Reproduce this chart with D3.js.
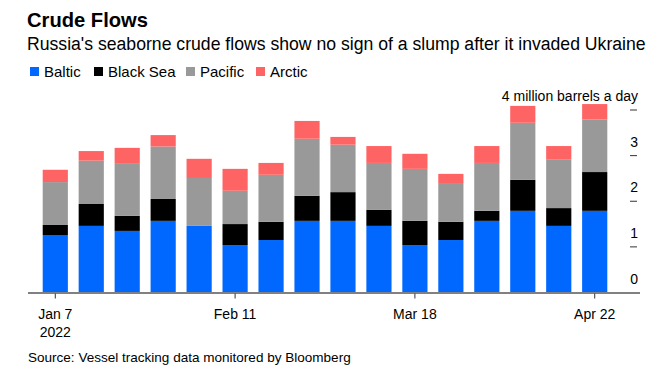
<!DOCTYPE html>
<html>
<head>
<meta charset="utf-8">
<script src="https://cdn.jsdelivr.net/npm/d3@7"></script>
<style>
  body { margin: 0; background: #fff; }
  text { font-family: "Liberation Sans", Arial, sans-serif; fill: #000; }
</style>
</head>
<body>
<svg id="chart" width="665" height="372"></svg>
<script>
// weekly flows, million barrels a day
const weeks = ["Jan 7", "Jan 14", "Jan 21", "Jan 28", "Feb 4", "Feb 11", "Feb 18", "Feb 25",
  "Mar 4", "Mar 11", "Mar 18", "Mar 25", "Apr 1", "Apr 8", "Apr 15", "Apr 22"];
const baltic   = [1.26, 1.46, 1.35, 1.57, 1.46, 1.04, 1.15, 1.57, 1.57, 1.46, 1.04, 1.15, 1.57, 1.79, 1.46, 1.79];
const blackSea = [0.22, 0.48, 0.33, 0.48, 0.00, 0.46, 0.40, 0.55, 0.63, 0.35, 0.53, 0.40, 0.22, 0.68, 0.39, 0.85];
const pacific  = [0.94, 0.95, 1.14, 1.15, 1.05, 0.73, 1.03, 1.25, 1.04, 1.03, 1.14, 0.83, 1.05, 1.25, 1.06, 1.15];
const arctic   = [0.27, 0.21, 0.35, 0.25, 0.42, 0.48, 0.26, 0.39, 0.17, 0.37, 0.33, 0.22, 0.37, 0.37, 0.30, 0.34];

const seriesNames = ["Baltic", "Black Sea", "Pacific", "Arctic"];
const colors = ["#0068ff", "#000000", "#999999", "#ff6464"];
const yTicks = [0, 1, 2, 3, 4];
const xTickWeeks = ["Jan 7", "Feb 11", "Mar 18", "Apr 22"];

const svg = d3.select("#chart");

// fit a text element to a target width by adjusting font-size
function fit(sel, width) {
  const fs = parseFloat(sel.attr("font-size"));
  const w = sel.node().getComputedTextLength();
  sel.attr("font-size", (fs * width / w).toFixed(2));
  return sel;
}

// header
fit(svg.append("text").attr("x", 27).attr("y", 27).attr("font-size", 20)
  .attr("font-weight", "bold").text("Crude Flows"), 121);
fit(svg.append("text").attr("x", 27).attr("y", 50).attr("font-size", 16)
  .text("Russia's seaborne crude flows show no sign of a slump after it invaded Ukraine"), 619);

// legend
const legendX = [30, 94, 186, 256];
const legend = svg.append("g").selectAll("g")
  .data(seriesNames)
  .enter()
  .append("g")
  .attr("transform", (d, i) => `translate(${legendX[i]},0)`);
legend.append("rect").attr("x", 0).attr("y", 67).attr("width", 9).attr("height", 9)
  .attr("fill", (d, i) => colors[i]);
legend.append("text").attr("x", 14).attr("y", 76.5).attr("font-size", 15).text((d) => d);

// scales
const x = d3.scaleBand().domain(weeks).range([42.7, 607.3]).paddingInner(0.3).paddingOuter(0);
const y = d3.scaleLinear().domain([0, 4]).range([292.5, 110]);

const rows = weeks.map((w, i) => ({
  week: w, "Baltic": baltic[i], "Black Sea": blackSea[i], "Pacific": pacific[i], "Arctic": arctic[i]
}));
const stacked = d3.stack().keys(seriesNames)(rows);

// bars
svg.append("g")
  .selectAll("g")
  .data(stacked)
  .enter()
  .append("g")
  .attr("fill", (d, i) => colors[i])
  .selectAll("rect")
  .data((d) => d)
  .enter()
  .append("rect")
  .attr("x", (d) => x(d.data.week))
  .attr("width", x.bandwidth())
  .attr("y", (d) => y(d[1]))
  .attr("height", (d) => y(d[0]) - y(d[1]));

// y axis on the right: short ticks, labels sitting above them
const yg = svg.append("g");
yg.selectAll("line")
  .data(yTicks.filter((t) => t > 0))
  .enter()
  .append("line")
  .attr("x1", 630).attr("x2", 637)
  .attr("y1", (d) => y(d)).attr("y2", (d) => y(d))
  .attr("stroke", "#333").attr("stroke-width", 1);
yg.selectAll("text")
  .data(yTicks)
  .enter()
  .append("text")
  .attr("x", 638)
  .attr("y", (d) => y(d) - 9)
  .attr("text-anchor", "end")
  .attr("font-size", 14)
  .text((d) => (d === 4 ? "4 million barrels a day" : d));

// x axis
svg.append("line")
  .attr("x1", 28).attr("x2", 640)
  .attr("y1", y(0) + 0.5).attr("y2", y(0) + 0.5)
  .attr("stroke", "#808080").attr("stroke-width", 2);
const xg = svg.append("g");
xg.selectAll("line")
  .data(xTickWeeks)
  .enter()
  .append("line")
  .attr("x1", (d) => x(d) + x.bandwidth() / 2)
  .attr("x2", (d) => x(d) + x.bandwidth() / 2)
  .attr("y1", y(0) + 1).attr("y2", y(0) + 6)
  .attr("stroke", "#333").attr("stroke-width", 1);
xg.selectAll("text")
  .data(xTickWeeks)
  .enter()
  .append("text")
  .attr("x", (d) => x(d) + x.bandwidth() / 2)
  .attr("y", 319)
  .attr("text-anchor", "middle")
  .attr("font-size", 14)
  .text((d) => d);
xg.append("text")
  .attr("x", x("Jan 7") + x.bandwidth() / 2)
  .attr("y", 337)
  .attr("text-anchor", "middle")
  .attr("font-size", 14)
  .text("2022");

// source
fit(svg.append("text").attr("x", 28).attr("y", 362).attr("font-size", 13)
  .text("Source: Vessel tracking data monitored by Bloomberg"), 323);
</script>
</body>
</html>
